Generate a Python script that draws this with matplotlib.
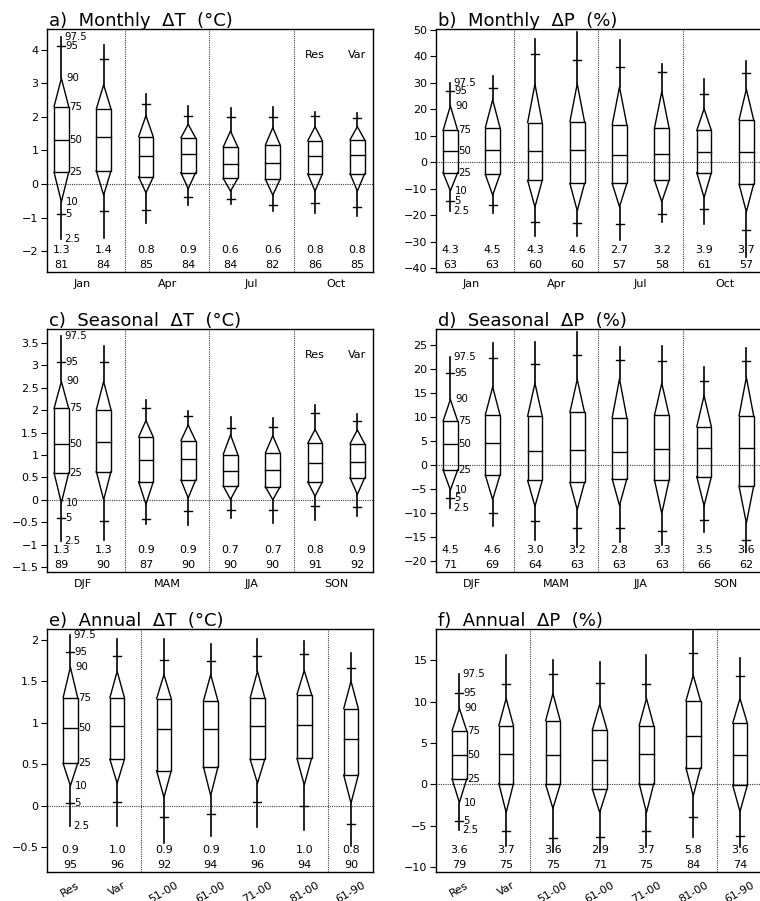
import matplotlib
matplotlib.use('Agg')
import matplotlib.pyplot as plt
from matplotlib.ticker import FuncFormatter
import numpy as np

plt.rcParams['font.family'] = ['DejaVu Sans']

# percentile levels drawn for every box (order of each row below)
pct_levels = ["2.5", "5", "10", "25", "50", "75", "90", "95", "97.5"]

# ---- a) Monthly dT ----
a_groups = ["Jan", "Apr", "Jul", "Oct"]
a_pct = [
    [-1.65, -0.88, -0.53, 0.35, 1.31, 2.31, 3.15, 4.10, 4.38],
    [-1.62, -0.81, -0.33, 0.39, 1.39, 2.24, 2.96, 3.73, 4.13],
    [-1.15, -0.76, -0.26, 0.21, 0.84, 1.41, 2.04, 2.38, 2.68],
    [-0.63, -0.39, -0.14, 0.34, 0.91, 1.38, 1.78, 2.02, 2.33],
    [-0.58, -0.44, -0.21, 0.17, 0.61, 1.10, 1.58, 2.01, 2.27],
    [-0.80, -0.62, -0.33, 0.14, 0.64, 1.17, 1.68, 2.01, 2.29],
    [-0.85, -0.55, -0.21, 0.30, 0.83, 1.29, 1.71, 2.03, 2.16],
    [-0.95, -0.68, -0.21, 0.31, 0.86, 1.32, 1.71, 1.96, 2.13],
]
a_med = ["1.3", "1.4", "0.8", "0.9", "0.6", "0.6", "0.8", "0.8"]
a_skill = ["81", "84", "85", "84", "84", "82", "86", "85"]

# ---- b) Monthly dP ----
b_groups = ["Jan", "Apr", "Jul", "Oct"]
b_pct = [
    [-18.4, -14.6, -10.9, -4.0, 4.3, 11.9, 21.2, 26.9, 29.8],
    [-19.4, -16.3, -12.5, -4.7, 4.5, 13.0, 23.5, 27.9, 32.6],
    [-27.9, -22.6, -17.0, -6.9, 4.3, 14.9, 29.4, 40.9, 46.6],
    [-27.9, -23.1, -18.4, -8.1, 4.7, 15.2, 29.5, 38.5, 49.1],
    [-29.3, -23.5, -16.9, -8.1, 2.7, 14.1, 28.3, 35.7, 46.0],
    [-22.6, -19.7, -15.0, -6.9, 3.2, 12.8, 26.6, 34.1, 37.0],
    [-23.2, -17.6, -13.4, -4.0, 3.9, 11.9, 20.1, 25.6, 31.3],
    [-36.0, -25.5, -18.8, -8.3, 3.8, 15.9, 27.5, 33.6, 38.0],
]
b_med = ["4.3", "4.5", "4.3", "4.6", "2.7", "3.2", "3.9", "3.7"]
b_skill = ["63", "63", "60", "60", "57", "58", "61", "57"]

# ---- c) Seasonal dT ----
c_groups = ["DJF", "MAM", "JJA", "SON"]
c_pct = [
    [-0.92, -0.40, -0.07, 0.60, 1.25, 2.04, 2.64, 3.07, 3.65],
    [-0.90, -0.48, 0.00, 0.63, 1.28, 2.01, 2.64, 3.07, 3.44],
    [-0.55, -0.43, -0.10, 0.40, 0.89, 1.40, 1.77, 2.04, 2.22],
    [-0.57, -0.25, 0.04, 0.44, 0.92, 1.32, 1.67, 1.87, 1.97],
    [-0.40, -0.22, 0.01, 0.31, 0.65, 1.01, 1.45, 1.61, 1.84],
    [-0.51, -0.23, 0.00, 0.29, 0.66, 1.05, 1.43, 1.63, 1.83],
    [-0.46, -0.14, 0.08, 0.40, 0.83, 1.26, 1.57, 1.93, 2.12],
    [-0.37, -0.17, 0.12, 0.49, 0.85, 1.25, 1.56, 1.75, 1.92],
]
c_med = ["1.3", "1.3", "0.9", "0.9", "0.7", "0.7", "0.8", "0.9"]
c_skill = ["89", "90", "87", "90", "90", "90", "91", "92"]

# ---- d) Seasonal dP ----
d_groups = ["DJF", "MAM", "JJA", "SON"]
d_pct = [
    [-8.9, -6.8, -5.2, -1.0, 4.5, 9.2, 13.7, 19.3, 22.5],
    [-12.6, -9.9, -7.2, -2.1, 4.6, 10.5, 16.3, 22.3, 25.5],
    [-15.6, -11.6, -8.6, -3.2, 2.9, 10.2, 17.1, 21.1, 25.6],
    [-17.1, -13.1, -9.3, -3.6, 3.1, 11.0, 17.9, 23.0, 27.7],
    [-16.1, -13.2, -8.4, -2.9, 2.8, 9.9, 18.0, 22.0, 24.6],
    [-16.7, -13.8, -10.1, -3.1, 3.3, 10.4, 17.1, 21.8, 24.8],
    [-14.0, -11.4, -8.5, -2.4, 3.5, 8.0, 14.5, 17.6, 20.4],
    [-18.1, -15.6, -12.1, -4.4, 3.6, 10.3, 18.3, 21.8, 24.4],
]
d_med = ["4.5", "4.6", "3.0", "3.2", "2.8", "3.3", "3.5", "3.6"]
d_skill = ["71", "69", "64", "63", "63", "63", "66", "62"]

# ---- e) Annual dT ----
ann_labels = ["Res", "Var", "51-00", "61-00", "71-00", "81-00", "61-90"]
e_pct = [
    [-0.25, 0.03, 0.24, 0.51, 0.94, 1.30, 1.67, 1.85, 2.06],
    [-0.24, 0.04, 0.27, 0.56, 0.96, 1.30, 1.62, 1.80, 2.01],
    [-0.45, -0.14, 0.10, 0.42, 0.93, 1.29, 1.58, 1.76, 2.01],
    [-0.36, -0.10, 0.12, 0.47, 0.93, 1.26, 1.58, 1.74, 1.95],
    [-0.26, 0.04, 0.27, 0.56, 0.96, 1.30, 1.62, 1.80, 2.01],
    [-0.29, -0.01, 0.25, 0.57, 0.97, 1.34, 1.63, 1.83, 1.98],
    [-0.49, -0.22, 0.03, 0.37, 0.80, 1.17, 1.50, 1.66, 1.84],
]
e_med = ["0.9", "1.0", "0.9", "0.9", "1.0", "1.0", "0.8"]
e_skill = ["95", "96", "92", "94", "96", "94", "90"]

# ---- f) Annual dP ----
f_pct = [
    [-5.55, -4.4, -2.2, 0.65, 3.6, 6.5, 9.2, 11.0, 13.3],
    [-7.5, -5.6, -3.4, 0.1, 3.7, 7.1, 10.4, 12.1, 15.6],
    [-8.2, -6.5, -2.9, 0.0, 3.6, 7.7, 11.0, 13.4, 15.1],
    [-8.2, -6.4, -3.4, -0.6, 2.9, 6.6, 9.7, 12.3, 14.8],
    [-7.6, -5.6, -3.4, 0.1, 3.7, 7.1, 10.4, 12.1, 15.6],
    [-6.4, -3.9, -1.4, 2.0, 5.8, 10.1, 13.2, 15.9, 18.6],
    [-7.6, -6.2, -3.3, -0.1, 3.6, 7.4, 10.4, 13.1, 15.3],
]
f_med = ["3.6", "3.7", "3.6", "2.9", "3.7", "5.8", "3.6"]
f_skill = ["79", "75", "75", "71", "75", "84", "74"]

titles = ["a)  Monthly  \u0394T  (\u00b0C)", "b)  Monthly  \u0394P  (%)",
          "c)  Seasonal  \u0394T  (\u00b0C)", "d)  Seasonal  \u0394P  (%)",
          "e)  Annual  \u0394T  (\u00b0C)", "f)  Annual  \u0394P  (%)"]

W, H = 760, 901
fig = plt.figure(figsize=(W / 100, H / 100), dpi=100)

AX_W, AX_H = 326, 243
lefts = [47, 436]
tops = [29, 329, 629]


def minus_fmt(v, _):
    s = f"{v:g}"
    return s.replace('-', '\u2212')


def draw_panel(ax, pct, med, skill, ylim, yticks, title, nboxes, seps,
               group_labels=None, box_labels=None, resvar=False):
    if nboxes == 8:
        xlim = (0.66, 8.37)
    else:
        xlim = (0.5, 7.47)
    ax.set_xlim(*xlim)
    ax.set_ylim(*ylim)
    upp = (xlim[1] - xlim[0]) / AX_W  # data units per pixel
    hw = 7.3 * upp
    cw = 4.0 * upp
    lw = 1.0
    col = 'black'
    # dotted separators and zero line
    for s in seps:
        ax.axvline(s, color='0.25', lw=0.8, ls=(0, (1, 1)), zorder=1)
    ax.axhline(0, color='0.25', lw=0.8, ls=(0, (1, 1)), zorder=1)
    for i, p in enumerate(pct):
        x = i + 1
        p025, p05, p10, p25, p50, p75, p90, p95, p975 = p
        # box
        ax.plot([x - hw, x + hw, x + hw, x - hw, x - hw], [p25, p25, p75, p75, p25],
                color=col, lw=lw, solid_joinstyle='miter')
        ax.plot([x - hw, x + hw], [p50, p50], color=col, lw=lw)
        # triangles
        ax.plot([x - hw, x, x + hw], [p75, p90, p75], color=col, lw=lw)
        ax.plot([x - hw, x, x + hw], [p25, p10, p25], color=col, lw=lw)
        # whiskers
        ax.plot([x, x], [p90, p975], color=col, lw=1.2)
        ax.plot([x, x], [p10, p025], color=col, lw=1.2)
        # crosses
        ax.plot([x - cw, x + cw], [p95, p95], color=col, lw=lw)
        ax.plot([x - cw, x + cw], [p05, p05], color=col, lw=lw)
        # numbers at bottom
        ax.text(x, 0.09, med[i], transform=ax.get_xaxis_transform(),
                ha='center', va='center', fontsize=8)
        ax.text(x, 0.03, skill[i], transform=ax.get_xaxis_transform(),
                ha='center', va='center', fontsize=8)
    # percentile labels on first box
    offs = [3, 4, 5, 8, 8, 8, 5, 4, 3]
    for lab, v, o in zip(pct_levels, pct[0], offs):
        ax.text(1 + o * upp, v, lab, ha='left', va='center', fontsize=7.3)
    if resvar:
        ax.text(7, 0.893, "Res", transform=ax.get_xaxis_transform(),
                ha='center', va='center', fontsize=8)
        ax.text(8, 0.893, "Var", transform=ax.get_xaxis_transform(),
                ha='center', va='center', fontsize=8)
    ax.set_yticks(yticks)
    ax.yaxis.set_major_formatter(FuncFormatter(minus_fmt))
    ax.tick_params(axis='y', direction='out', length=4, width=0.8,
                   labelsize=8, pad=2)
    if group_labels is not None:
        ax.set_xticks([1.5, 3.5, 5.5, 7.5])
        ax.set_xticklabels(group_labels)
        ax.tick_params(axis='x', length=0, labelsize=8, pad=5)
    else:
        ax.set_xticks(np.arange(1, nboxes + 1))
        ax.set_xticklabels(box_labels, rotation=30, ha='center', va='top')
        ax.tick_params(axis='x', length=0, labelsize=8, pad=6)
    for sp in ax.spines.values():
        sp.set_linewidth(1.0)
    ax.text(0.005, 1 + 3 / AX_H, title, transform=ax.transAxes,
            ha='left', va='baseline', fontsize=13)


def add_ax(col, row):
    l = lefts[col] / W
    b = 1 - (tops[row] + AX_H) / H
    return fig.add_axes([l, b, AX_W / W, AX_H / H])


ax = add_ax(0, 0)
draw_panel(ax, a_pct, a_med, a_skill, (-2.62, 4.62), np.arange(-2, 5, 1),
           titles[0], 8, [2.5, 4.5, 6.5], group_labels=a_groups, resvar=True)
ax = add_ax(1, 0)
draw_panel(ax, b_pct, b_med, b_skill, (-41.5, 50.2), np.arange(-40, 51, 10),
           titles[1], 8, [2.5, 4.5, 6.5], group_labels=b_groups)
ax = add_ax(0, 1)
draw_panel(ax, c_pct, c_med, c_skill, (-1.61, 3.81), np.arange(-1.5, 3.6, 0.5),
           titles[2], 8, [2.5, 4.5, 6.5], group_labels=c_groups, resvar=True)
ax = add_ax(1, 1)
draw_panel(ax, d_pct, d_med, d_skill, (-22.3, 28.4), np.arange(-20, 26, 5),
           titles[3], 8, [2.5, 4.5, 6.5], group_labels=d_groups)
ax = add_ax(0, 2)
draw_panel(ax, e_pct, e_med, e_skill, (-0.80, 2.13), np.arange(-0.5, 2.1, 0.5),
           titles[4], 7, [2.5, 6.5], box_labels=ann_labels)
ax = add_ax(1, 2)
draw_panel(ax, f_pct, f_med, f_skill, (-10.6, 18.8), np.arange(-10, 16, 5),
           titles[5], 7, [2.5, 6.5], box_labels=ann_labels)

fig.savefig("out.png", dpi=100)
